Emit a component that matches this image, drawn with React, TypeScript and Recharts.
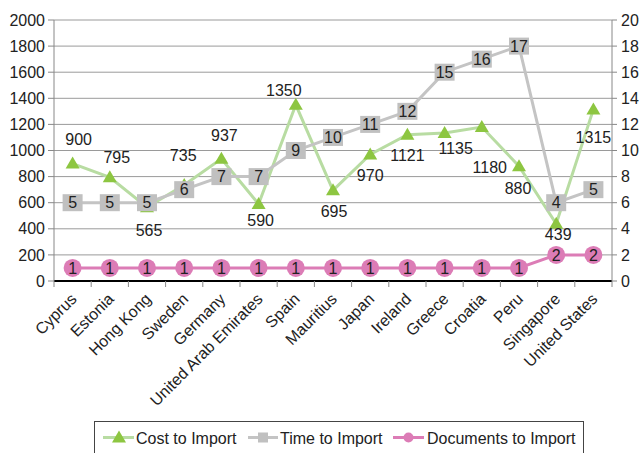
import React from 'react';
import { LineChart, Line, XAxis, YAxis, CartesianGrid } from 'recharts';

const countries = [
  'Cyprus', 'Estonia', 'Hong Kong', 'Sweden', 'Germany', 'United Arab Emirates', 'Spain',
  'Mauritius', 'Japan', 'Ireland', 'Greece', 'Croatia', 'Peru', 'Singapore', 'United States',
];
const costToImport = [900, 795, 565, 735, 937, 590, 1350, 695, 970, 1121, 1135, 1180, 880, 439, 1315];
// position of the Time markers as drawn on the right axis
const timeToImport = [6, 6, 6, 7, 8, 8, 10, 11, 12, 13, 16, 17, 18, 6, 7];
// text printed inside the Time markers
const timeLabels = ['5', '5', '5', '6', '7', '7', '9', '10', '11', '12', '15', '16', '17', '4', '5'];
const documentsToImport = [1, 1, 1, 1, 1, 1, 1, 1, 1, 1, 1, 1, 1, 2, 2];
const leftTicks = [0, 200, 400, 600, 800, 1000, 1200, 1400, 1600, 1800, 2000];
const rightTicks = [0, 2, 4, 6, 8, 10, 12, 14, 16, 18, 20];

// label offsets (dx, dy) for cost labels – styling only
const costLabelOffsets: [number, number][] = [
  [6, -24], [7, -20], [2, 23], [-1, -30], [3, -23], [2, 16], [-12, -15], [1, 21],
  [0, 21], [0, 21], [11, 15], [8, 40], [-1, 22], [2, 11], [0, 28],
];

const data = countries.map((c, i) => ({
  country: c,
  cost: costToImport[i],
  time: timeToImport[i],
  timeLabel: timeLabels[i],
  docs: documentsToImport[i],
}));

const FONT = '"Liberation Sans", Arial, Helvetica, sans-serif';
const FS = 16;
const TEXT = '#222';
const GREEN_LINE = '#b8dca2';
const GREEN_MARK = '#8dc641';
const GRAY_LINE = '#c4c4c4';
const GRAY_MARK = '#c0c0c0';
const PINK = '#dc7cb6';

const CHART_W = 644;
const CHART_H = 453;
const LEFT_W = 54;
const RIGHT_W = 32;
const TOP = 20;
const XAXIS_H = 172;
const PLOT_W = CHART_W - LEFT_W - RIGHT_W;
const BAND = PLOT_W / countries.length;

const CategoryTick = (props: any) => {
  const { x, y, payload, index } = props;
  const px = x + 5;
  const py = y + 19;
  return (
    <g>
      <line x1={x - BAND / 2} y1={y} x2={x - BAND / 2} y2={y + 6} stroke="#888" strokeWidth={1} />
      {index === countries.length - 1 && (
        <line x1={x + BAND / 2} y1={y} x2={x + BAND / 2} y2={y + 6} stroke="#888" strokeWidth={1} />
      )}
      <text
        x={px}
        y={py}
        textAnchor="end"
        transform={`rotate(-45, ${px}, ${py})`}
        fontSize={FS}
        fontFamily={FONT}
        fill={TEXT}
      >
        {payload.value}
      </text>
    </g>
  );
};

const CostDot = (props: any) => {
  const { cx, cy, index, value } = props;
  if (cx == null || cy == null) return null;
  const [dx, dy] = costLabelOffsets[index] || [0, -20];
  return (
    <g key={`c${index}`}>
      <polygon
        points={`${cx},${cy - 7} ${cx + 7},${cy + 5} ${cx - 7},${cy + 5}`}
        fill={GREEN_MARK}
      />
      <text
        x={cx + dx}
        y={cy + dy + 5.7}
        textAnchor="middle"
        fontSize={FS}
        fontFamily={FONT}
        fill={TEXT}
      >
        {Array.isArray(value) ? value[1] : value}
      </text>
    </g>
  );
};

const TimeDot = (props: any) => {
  const { cx, cy, index, payload } = props;
  if (cx == null || cy == null) return null;
  return (
    <g key={`t${index}`}>
      <rect x={cx - 10} y={cy - 8.5} width={20} height={17} fill={GRAY_MARK} />
      <text x={cx} y={cy + 5.7} textAnchor="middle" fontSize={FS} fontFamily={FONT} fill={TEXT}>
        {payload.timeLabel}
      </text>
    </g>
  );
};

const DocDot = (props: any) => {
  const { cx, cy, index, value } = props;
  if (cx == null || cy == null) return null;
  return (
    <g key={`d${index}`}>
      <circle cx={cx} cy={cy} r={9} fill={PINK} />
      <text x={cx} y={cy + 5.7} textAnchor="middle" fontSize={FS} fontFamily={FONT} fill={TEXT}>
        {Array.isArray(value) ? value[1] : value}
      </text>
    </g>
  );
};

const LegendBox = () => {
  const ty = 443.5;
  const my = 437.5;
  return (
    <svg
      width={CHART_W}
      height={CHART_H}
      style={{ position: 'absolute', left: 0, top: 0, pointerEvents: 'none' }}
    >
      <rect x={94.5} y={421.5} width={489} height={40} fill="none" stroke="#444" strokeWidth={1} />
      <line x1={103} y1={my} x2={134} y2={my} stroke={GREEN_LINE} strokeWidth={3} />
      <polygon points={`119,${my - 7} 126,${my + 5} 112,${my + 5}`} fill={GREEN_MARK} />
      <text x={136} y={ty} fontSize={FS} fontFamily={FONT} fill={TEXT}>Cost to Import</text>

      <line x1={248} y1={my} x2={278} y2={my} stroke={GRAY_LINE} strokeWidth={3} />
      <rect x={258} y={my - 5} width={10} height={10} fill={GRAY_MARK} />
      <text x={280} y={ty} fontSize={FS} fontFamily={FONT} fill={TEXT}>Time to Import</text>

      <line x1={393} y1={my} x2={424} y2={my} stroke={PINK} strokeWidth={3} />
      <circle cx={408.5} cy={my} r={5} fill={PINK} />
      <text x={427} y={ty} fontSize={FS} fontFamily={FONT} fill={TEXT}>Documents to Import</text>
    </svg>
  );
};

export default function App() {
  return (
    <div
      style={{
        position: 'absolute',
        left: 0,
        top: 0,
        width: CHART_W,
        height: CHART_H,
        background: '#fff',
        fontFamily: FONT,
      }}
    >
      <LineChart
        width={CHART_W}
        height={CHART_H}
        data={data}
        margin={{ top: TOP, right: 0, bottom: 0, left: 0 }}
      >
        <CartesianGrid vertical={false} stroke="#9a9a9a" yAxisId="left" />
        <XAxis
          dataKey="country"
          scale="band"
          interval={0}
          height={XAXIS_H}
          axisLine={{ stroke: '#000', strokeWidth: 2 }}
          tickLine={false}
          tickSize={0}
          tickMargin={0}
          tick={<CategoryTick />}
        />
        <YAxis
          yAxisId="left"
          domain={[0, 2000]}
          ticks={leftTicks}
          interval={0}
          width={LEFT_W}
          axisLine={{ stroke: '#888' }}
          tickLine={{ stroke: '#888' }}
          tickSize={6}
          tickMargin={3}
          tick={{ fontSize: FS, fill: TEXT, fontFamily: FONT }}
        />
        <YAxis
          yAxisId="right"
          orientation="right"
          domain={[0, 20]}
          ticks={rightTicks}
          interval={0}
          width={RIGHT_W}
          axisLine={{ stroke: '#888' }}
          tickLine={{ stroke: '#888' }}
          tickSize={5}
          tickMargin={4}
          tick={{ fontSize: FS, fill: TEXT, fontFamily: FONT }}
        />
        <Line
          yAxisId="left"
          dataKey="cost"
          stroke={GREEN_LINE}
          strokeWidth={3}
          dot={<CostDot />}
          activeDot={false}
          isAnimationActive={false}
        />
        <Line
          yAxisId="right"
          dataKey="time"
          stroke={GRAY_LINE}
          strokeWidth={3}
          dot={<TimeDot />}
          activeDot={false}
          isAnimationActive={false}
        />
        <Line
          yAxisId="right"
          dataKey="docs"
          stroke={PINK}
          strokeWidth={3}
          dot={<DocDot />}
          activeDot={false}
          isAnimationActive={false}
        />
      </LineChart>
      <LegendBox />
    </div>
  );
}
